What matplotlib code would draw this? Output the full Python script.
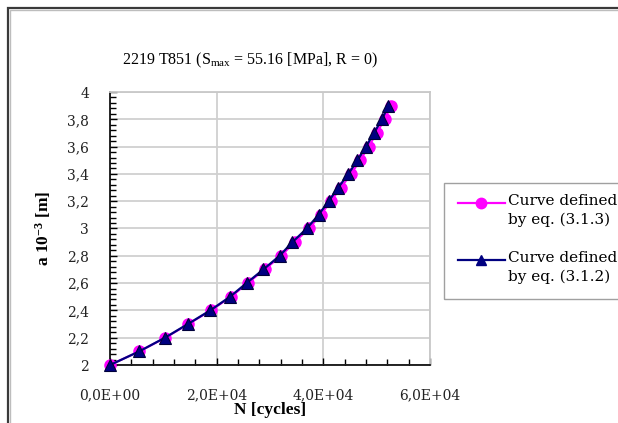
import numpy as np
import matplotlib
matplotlib.use('Agg')
import matplotlib.pyplot as plt
from matplotlib.ticker import MultipleLocator, FuncFormatter
from matplotlib.lines import Line2D
from matplotlib.patches import Rectangle

plt.rcParams['mathtext.fontset'] = 'custom'
plt.rcParams['mathtext.rm'] = 'Liberation Serif'
plt.rcParams['mathtext.bf'] = 'Liberation Serif:bold'

# crack length a [10^-3 m]
a_vals = [2.0, 2.1, 2.2, 2.3, 2.4, 2.5, 2.6, 2.7, 2.8, 2.9,
          3.0, 3.1, 3.2, 3.3, 3.4, 3.5, 3.6, 3.7, 3.8, 3.9]
# number of cycles, eq. (3.1.3)
N_313 = [0, 5500, 10400, 14700, 18900, 22700, 25800, 29000, 32100, 34600,
         37300, 39500, 41400, 43300, 45200, 46900, 48500, 50000, 51500, 52700]
# number of cycles, eq. (3.1.2)
N_312 = [0, 5500, 10300, 14600, 18800, 22500, 25600, 28760, 31800, 34200,
         36900, 39100, 41000, 42800, 44700, 46400, 48000, 49500, 51000, 52200]

labels = ['Curve defined\nby eq. (3.1.3)', 'Curve defined\nby eq. (3.1.2)']
colors = ['#ff00ff', '#000080']
markers = ['o', '^']

W, H = 618, 423
fig = plt.figure(figsize=(W / 100., H / 100.), dpi=100)

def fx(x):
    return x / float(W)

def fy(y):
    return 1 - y / float(H)

# outer chart frame (cut off at right and bottom)
fig.add_artist(Rectangle((fx(8), fy(480)), fx(700), fy(8) - fy(480), transform=fig.transFigure,
                         fill=False, edgecolor='#3a3a3a', linewidth=1.6))
fig.add_artist(Rectangle((fx(10), fy(480)), fx(700), fy(10) - fy(480), transform=fig.transFigure,
                         fill=False, edgecolor='#bdbdbd', linewidth=1.0))

ax = fig.add_axes([fx(110), fy(365), fx(430) - fx(110), fy(92) - fy(365)])

ax.plot(N_313, a_vals, color=colors[0], marker=markers[0], markersize=8, linewidth=1.5,
        markeredgecolor=colors[0], clip_on=False, zorder=3)
ax.plot(N_312, a_vals, color=colors[1], marker=markers[1], markersize=8, linewidth=1.6,
        markeredgecolor='#00003a', markeredgewidth=0.8, clip_on=False, zorder=4)

ax.set_xlim(0, 60000)
ax.set_ylim(2, 4)
ax.xaxis.set_major_locator(MultipleLocator(20000))
ax.xaxis.set_minor_locator(MultipleLocator(4000))
ax.yaxis.set_major_locator(MultipleLocator(0.2))
ax.yaxis.set_minor_locator(MultipleLocator(0.04))

def xfmt(v, pos):
    m, e = ('%.1E' % v).split('E')
    return (m + 'E' + e).replace('.', ',')

def yfmt(v, pos):
    s = ('%.1f' % v).replace('.', ',')
    if s.endswith(',0'):
        s = s[:-2]
    return s

ax.xaxis.set_major_formatter(FuncFormatter(xfmt))
ax.yaxis.set_major_formatter(FuncFormatter(yfmt))

ax.grid(True, which='major', color='#d0d0d0', linewidth=1.3)
ax.set_axisbelow(True)
ax.tick_params(which='both', direction='in', color='black', width=1)
ax.tick_params(which='major', length=5)
ax.tick_params(which='minor', length=4)
ax.tick_params(axis='x', which='major', pad=17)
ax.tick_params(axis='y', which='major', pad=15)
for lab in ax.get_xticklabels() + ax.get_yticklabels():
    lab.set_family('DejaVu Serif')
    lab.set_fontsize(10)
    lab.set_color('#222222')

for s in ['top', 'right']:
    ax.spines[s].set_color('#c8c8c8')
    ax.spines[s].set_linewidth(1.3)
for s in ['left', 'bottom']:
    ax.spines[s].set_color('black')
    ax.spines[s].set_linewidth(1.2)

ax.set_xlabel('N [cycles]', family='Liberation Serif', fontsize=12.5, fontweight='bold')
ax.set_ylabel(r'a $\mathbf{10^{-3}}$ [m]', family='Liberation Serif', fontsize=12.5, fontweight='bold')
ax.xaxis.set_label_coords(0.5, -0.135)
ax.yaxis.set_label_coords(-0.178, 0.5)

fig.text(fx(250), fy(60), r'2219 T851 (S$_{\rm max}$ = 55.16 [MPa], R = 0)', family='Liberation Serif',
         fontsize=11.5, ha='center', va='center')

# legend box, drawn by hand so the key lines up with the first text line
fig.add_artist(Rectangle((fx(444), fy(299)), fx(300), fy(183) - fy(299), transform=fig.transFigure,
                         fill=False, edgecolor='#a0a0a0', linewidth=1.0))
for i in range(len(labels)):
    yl = 203 + i * 57
    fig.add_artist(Line2D([fx(458), fx(505)], [fy(yl), fy(yl)], transform=fig.transFigure,
                          color=colors[i], linewidth=1.6))
    fig.add_artist(Line2D([fx(481)], [fy(yl)], transform=fig.transFigure, marker=markers[i],
                          markersize=7.5, color=colors[i], linestyle='none'))
    fig.text(fx(508), fy(yl - 9), labels[i], family='DejaVu Serif', fontsize=11,
             ha='left', va='top', linespacing=1.4)

fig.savefig('out.png', dpi=100)
